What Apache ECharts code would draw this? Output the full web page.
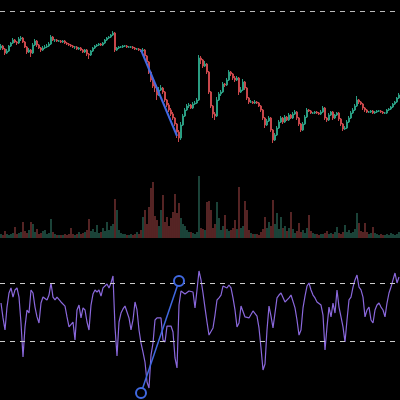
<!DOCTYPE html>
<html>
<head>
<meta charset="utf-8">
<script src="https://cdn.jsdelivr.net/npm/echarts@6/dist/echarts.min.js"></script>
<style>html,body{margin:0;padding:0;background:#000;}#c{width:400px;height:400px;}</style>
</head>
<body>
<div id="c"></div>
<script>
// [open, close, low, high]
const candles = [
[152,154,150,156],[154,151,150,155],[151,147,145,152],[147,149,146,151],[149,154,148,155],
[154,157,153,158],[157,160,156,162],[160,158,157,161],[158,157,155,159],[157,161,156,163],
[161,162,159,164],[162,158,157,163],[158,153,152,159],[153,148,146,154],[148,150,147,152],
[150,147,143,151],[147,155,146,157],[155,159,154,161],[159,155,153,160],[155,152,151,156],
[152,150,148,153],[150,152,149,154],[152,153,151,155],[153,154,152,156],[154,156,153,158],
[156,163,155,165],[163,160,159,164],[160,160,158,161],[160,159,158,161],[159,159,158,160],
[159,158,157,160],[158,159,157,160],[159,157,156,160],[157,156,155,158],[156,155,154,157],
[155,154,153,156],[154,153,152,155],[153,153,151,154],[153,151,150,154],[151,152,150,153],
[152,150,149,153],[150,148,147,151],[148,150,147,151],[150,146,144,151],[146,145,141,147],
[145,149,144,150],[149,152,148,153],[152,154,151,155],[154,155,153,156],[155,156,154,157],
[156,155,154,157],[155,157,154,158],[157,160,156,161],[160,162,159,163],[162,163,161,164],
[163,165,162,166],[165,167,164,169],[167,150,148,168],[150,152,149,153],[152,153,151,154],
[153,153,152,154],[153,154,152,155],[154,154,153,155],[154,153,152,155],[153,153,152,154],
[153,153,152,154],[153,152,151,154],[152,151,150,153],[151,151,150,152],[151,150,149,152],
[150,149,148,151],[149,150,148,152],[150,144,143,151],[144,138,136,145],[138,128,126,139],
[128,120,118,129],[120,114,112,122],[114,112,108,116],[112,105,100,113],[105,110,104,113],
[110,112,109,115],[112,108,106,113],[108,100,98,109],[100,95,93,101],[95,90,88,97],
[90,86,84,92],[86,82,80,88],[82,76,74,83],[76,68,62,77],[68,62,58,70],
[62,75,60,78],[75,84,74,86],[84,90,83,92],[90,94,89,96],[94,95,92,97],
[95,92,91,96],[92,96,91,98],[96,97,95,99],[97,100,96,102],[100,142,99,145],
[142,140,136,144],[140,134,132,141],[134,136,133,139],[136,128,126,137],[128,108,106,129],
[108,94,92,109],[94,86,82,95],[86,84,80,88],[84,100,83,103],[100,106,99,108],
[106,108,104,110],[108,116,107,118],[116,115,113,117],[115,120,114,122],[120,128,119,130],
[128,126,124,129],[126,122,120,127],[122,120,118,124],[120,122,119,124],[122,108,105,123],
[108,110,107,113],[110,118,109,121],[118,112,110,119],[112,102,100,113],[102,98,96,103],
[98,98,97,100],[98,97,96,99],[97,98,96,100],[98,97,96,99],[97,94,93,98],
[94,90,88,95],[90,82,80,91],[82,75,72,83],[75,79,74,81],[79,82,78,84],
[82,70,68,83],[70,60,57,71],[60,65,59,67],[65,72,64,74],[72,78,71,80],
[78,82,77,84],[82,78,76,83],[78,83,77,85],[83,80,79,84],[80,85,79,87],
[85,82,81,86],[82,86,81,88],[86,88,85,90],[88,82,80,89],[82,76,74,83],
[76,70,68,77],[70,76,69,78],[76,83,75,85],[83,90,82,92],[90,89,88,91],
[89,87,86,90],[87,87,86,88],[87,88,86,89],[88,87,86,89],[87,86,85,88],
[86,88,85,90],[88,92,87,94],[92,82,80,93],[82,80,78,83],[80,85,79,87],
[85,88,84,89],[88,82,80,89],[82,85,81,86],[85,87,84,88],[87,81,79,88],
[81,76,74,82],[76,71,69,77],[71,72,70,74],[72,78,71,80],[78,82,77,84],
[82,87,81,89],[87,90,86,92],[90,94,89,96],[94,100,93,104],[100,98,96,101],
[98,96,95,99],[96,92,90,97],[92,90,88,93],[90,88,87,91],[88,88,87,89],
[88,89,87,90],[89,87,86,90],[87,88,86,89],[88,89,87,90],[89,89,88,90],
[89,88,87,90],[88,87,86,89],[87,87,86,88],[87,90,86,91],[90,91,89,92],
[91,93,90,94],[93,96,92,97],[96,98,95,99],[98,102,97,103],[102,105,101,107]
];

const volumes = [
4,3,7,4,3,4,5,11,4,5, 6,16,7,5,8,16,14,6,9,4,
5,7,8,4,5,19,6,4,3,3, 3,3,4,3,4,10,4,3,4,6,
4,5,6,8,19,7,9,6,13,5, 6,10,7,16,8,12,14,39,28,8,
5,4,4,3,3,4,3,4,6,4, 8,21,28,14,31,50,56,22,18,12,
28,43,16,21,12,20,26,44,25,35, 20,14,12,8,6,6,5,4,6,62,
10,9,8,36,37,28,10,14,36,20, 8,12,23,9,7,8,10,18,9,51,
10,12,37,28,8,5,4,4,4,3, 6,9,21,10,16,12,38,14,25,9,
21,10,12,7,10,26,9,5,7,15, 6,8,5,10,23,7,5,4,4,3,
4,4,5,7,4,5,4,6,11,5, 4,6,13,6,8,5,6,9,25,15,
7,6,15,6,4,5,11,5,4,3, 4,3,3,4,3,5,4,3,4,6
];

const oscillator = [
56.2,45.9,37.6,53.4,63.1,66.6,60.3,65.2,66.6,60.3,
42.4,19.0,39.7,51.4,49.3,65.2,63.1,53.4,46.6,42.4,
56.2,60.3,59.7,58.3,61.7,70.0,60.3,58.3,60.3,59.0,
56.9,57.6,54.1,46.6,39.7,41.0,43.1,30.7,51.4,54.8,
45.9,52.8,51.4,43.1,37.6,54.8,62.4,65.2,63.8,65.2,
61.0,66.6,67.9,69.3,66.6,70.0,74.8,39.7,19.7,43.1,
49.3,52.1,54.1,52.8,45.9,37.6,44.5,56.9,51.4,37.6,
28.6,22.4,15.5,1.7,-2.4,20.3,28.6,44.5,45.9,47.2,
45.9,30.7,29.3,40.3,39.0,40.3,36.2,18.3,11.4,54.8,
64.5,63.8,62.4,63.1,64.5,65.2,63.8,52.8,65.2,78.3,
72.1,63.1,52.8,43.1,34.1,34.1,39.0,47.9,58.3,59.7,
61.7,67.9,67.2,66.6,68.6,66.6,59.7,51.4,39.7,42.4,
54.1,52.8,46.6,45.9,45.9,47.2,50.7,50.7,47.2,39.0,
25.2,10.0,14.1,37.6,54.1,47.2,39.0,49.3,59.7,61.7,
63.1,63.8,56.9,56.2,59.7,61.7,61.0,52.8,44.5,34.1,
37.6,52.8,61.0,67.9,70.0,65.2,61.7,59.7,56.9,56.9,
54.8,47.9,23.8,39.7,53.4,46.6,56.2,49.3,65.2,53.4,
46.6,39.7,29.3,44.5,58.3,60.3,67.2,72.1,75.5,67.2,
65.2,60.3,46.6,51.4,53.4,44.5,42.4,51.4,54.8,56.2,
53.4,51.4,46.6,56.2,63.1,67.2,72.1,76.9,70.0,74.1
];

const oscLevels = [70, 30];
const priceRefLevel = 189;
// drawings: [categoryIndex, value]
const priceTrend = [[70, 150], [88, 64]];
const oscTrend = [[70, -5.9], [89, 71.4]];

const categories = candles.map((_, i) => String(i));

const UP = '#2a9d82';
const DOWN = '#c9474b';
const BLUE = '#4169e1';

const volData = volumes.map((v, i) => ({
  value: v,
  itemStyle: { color: candles[i][1] >= candles[i][0] ? 'rgba(60,150,125,0.75)' : 'rgba(190,80,80,0.75)' }
}));

const chart = echarts.init(document.getElementById('c'), null, { renderer: 'canvas' });
const hiddenX = (gi) => ({ type: 'category', data: categories, gridIndex: gi, show: false, boundaryGap: true });
chart.setOption({
  backgroundColor: '#000',
  animation: false,
  grid: [
    { left: 0, right: 0, top: 11, height: 149 },
    { left: 0, right: 0, top: 170, height: 68 },
    { left: 0, right: 0, top: 246.75, height: 152.25 }
  ],
  xAxis: [hiddenX(0), hiddenX(1), hiddenX(2)],
  yAxis: [
    { gridIndex: 0, min: 40, max: 189, show: false, splitLine: { show: false } },
    { gridIndex: 1, min: 0, max: 68, show: false, splitLine: { show: false } },
    { gridIndex: 2, min: -10, max: 95, show: false, splitLine: { show: false } }
  ],
  series: [
    {
      type: 'candlestick', xAxisIndex: 0, yAxisIndex: 0, data: candles,
      barWidth: '75%',
      itemStyle: { color: UP, color0: DOWN, borderColor: UP, borderColor0: DOWN, borderWidth: 1 },
      markLine: {
        silent: true, symbol: ['none', 'none'], label: { show: false },
        lineStyle: { color: '#bbbbbb', type: [5, 5], width: 1.2 },
        data: [{ yAxis: priceRefLevel }]
      }
    },
    {
      type: 'line', xAxisIndex: 0, yAxisIndex: 0, data: priceTrend,
      symbol: 'none', lineStyle: { color: BLUE, width: 2 }, z: 5
    },
    {
      type: 'bar', xAxisIndex: 1, yAxisIndex: 1, data: volData,
      barWidth: 1.2
    },
    {
      type: 'line', xAxisIndex: 2, yAxisIndex: 2, data: oscillator,
      symbol: 'none', lineStyle: { color: '#8a68dc', width: 1.2 },
      markLine: {
        silent: true, symbol: ['none', 'none'], label: { show: false },
        lineStyle: { color: '#cccccc', type: [5, 5], width: 1.2 },
        data: oscLevels.map(v => ({ yAxis: v }))
      }
    },
    {
      type: 'line', xAxisIndex: 2, yAxisIndex: 2, data: oscTrend,
      symbol: 'circle', symbolSize: 10, showSymbol: true, showAllSymbol: true, clip: false,
      itemStyle: { color: '#000', borderColor: BLUE, borderWidth: 2 },
      lineStyle: { color: BLUE, width: 1.5 }, z: 10
    }
  ]
});
</script>
</body>
</html>
